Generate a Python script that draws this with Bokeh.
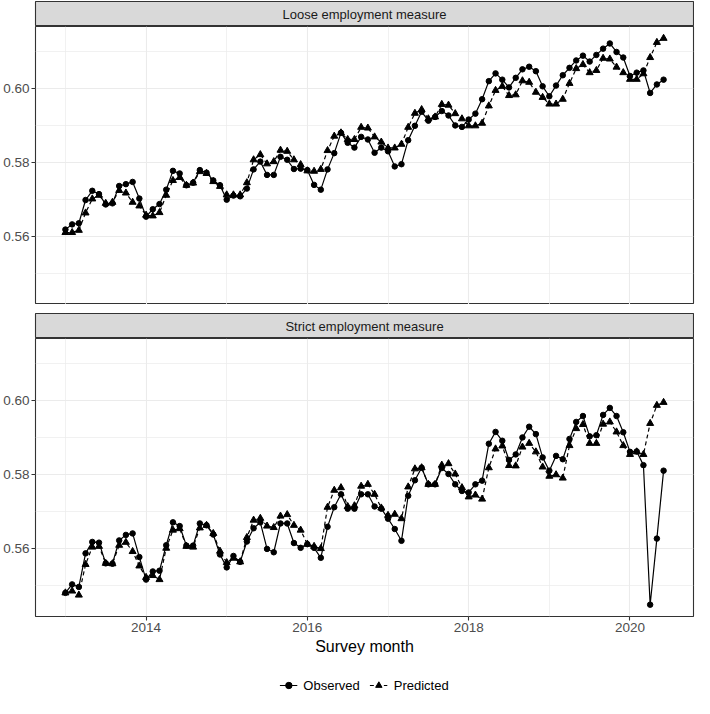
import pandas as pd
from bokeh.plotting import figure
from bokeh.layouts import column
from bokeh.models import (Range1d, FixedTicker, PrintfTickFormatter, Label, Legend,
                          LegendItem, ColumnDataSource, Grid, CDSView, IndexFilter)
from bokeh.embed import file_html
from bokeh.resources import INLINE

# ---------------- data ----------------
months = pd.date_range("2013-01-01", periods=90, freq="MS")

loose_observed = [
    0.5619, 0.5633, 0.5636, 0.5699, 0.5724, 0.5715, 0.5687, 0.5690, 0.5737, 0.5742, 0.5748, 0.5703,
    0.5654, 0.5674, 0.5688, 0.5727, 0.5778, 0.5771, 0.5739, 0.5746, 0.5780, 0.5773, 0.5752, 0.5739,
    0.5700, 0.5711, 0.5709, 0.5730, 0.5782, 0.5803, 0.5767, 0.5767, 0.5816, 0.5808, 0.5783, 0.5784,
    0.5780, 0.5740, 0.5727, 0.5782, 0.5826, 0.5881, 0.5854, 0.5841, 0.5870, 0.5863, 0.5827, 0.5841,
    0.5831, 0.5790, 0.5796, 0.5861, 0.5900, 0.5938, 0.5914, 0.5924, 0.5940, 0.5928, 0.5901, 0.5897,
    0.5917, 0.5933, 0.5972, 0.6021, 0.6042, 0.6025, 0.6004, 0.6030, 0.6053, 0.6060, 0.6048, 0.6007,
    0.5980, 0.6009, 0.6037, 0.6057, 0.6077, 0.6090, 0.6074, 0.6092, 0.6109, 0.6123, 0.6100, 0.6085,
    0.6035, 0.6044, 0.6050, 0.5989, 0.6012, 0.6025,
]
loose_predicted = [
    0.5611, 0.5611, 0.5617, 0.5664, 0.5702, 0.5712, 0.5690, 0.5693, 0.5725, 0.5718, 0.5693, 0.5683,
    0.5658, 0.5656, 0.5665, 0.5712, 0.5752, 0.5760, 0.5739, 0.5745, 0.5776, 0.5771, 0.5749, 0.5736,
    0.5713, 0.5713, 0.5713, 0.5746, 0.5808, 0.5822, 0.5797, 0.5803, 0.5834, 0.5831, 0.5808, 0.5795,
    0.5778, 0.5777, 0.5782, 0.5833, 0.5872, 0.5881, 0.5863, 0.5863, 0.5896, 0.5894, 0.5870, 0.5856,
    0.5840, 0.5840, 0.5850, 0.5896, 0.5934, 0.5944, 0.5919, 0.5924, 0.5958, 0.5956, 0.5933, 0.5919,
    0.5900, 0.5900, 0.5907, 0.5954, 0.5996, 0.6007, 0.5982, 0.5984, 0.6022, 0.6018, 0.5991, 0.5977,
    0.5959, 0.5959, 0.5972, 0.6015, 0.6055, 0.6066, 0.6044, 0.6050, 0.6083, 0.6081, 0.6059, 0.6044,
    0.6026, 0.6026, 0.6041, 0.6085, 0.6126, 0.6137,
]
strict_observed = [
    0.5480, 0.5503, 0.5496, 0.5587, 0.5618, 0.5616, 0.5560, 0.5559, 0.5622, 0.5637, 0.5641, 0.5577,
    0.5516, 0.5538, 0.5540, 0.5609, 0.5671, 0.5661, 0.5608, 0.5608, 0.5668, 0.5663, 0.5638, 0.5584,
    0.5549, 0.5580, 0.5564, 0.5619, 0.5655, 0.5671, 0.5599, 0.5590, 0.5668, 0.5668, 0.5615, 0.5602,
    0.5612, 0.5602, 0.5575, 0.5659, 0.5712, 0.5747, 0.5708, 0.5708, 0.5747, 0.5747, 0.5714, 0.5708,
    0.5681, 0.5653, 0.5621, 0.5743, 0.5785, 0.5819, 0.5774, 0.5774, 0.5818, 0.5802, 0.5774, 0.5756,
    0.5752, 0.5774, 0.5784, 0.5884, 0.5916, 0.5892, 0.5840, 0.5855, 0.5901, 0.5930, 0.5910, 0.5847,
    0.5811, 0.5851, 0.5842, 0.5897, 0.5943, 0.5959, 0.5904, 0.5907, 0.5962, 0.5981, 0.5959, 0.5915,
    0.5862, 0.5863, 0.5826, 0.5448, 0.5627, 0.5811,
]
strict_predicted = [
    0.5480, 0.5485, 0.5474, 0.5557, 0.5604, 0.5606, 0.5560, 0.5559, 0.5609, 0.5617, 0.5592, 0.5553,
    0.5522, 0.5527, 0.5516, 0.5601, 0.5650, 0.5654, 0.5606, 0.5604, 0.5656, 0.5663, 0.5641, 0.5593,
    0.5562, 0.5574, 0.5564, 0.5630, 0.5677, 0.5682, 0.5661, 0.5657, 0.5688, 0.5692, 0.5663, 0.5650,
    0.5612, 0.5606, 0.5600, 0.5712, 0.5758, 0.5765, 0.5714, 0.5716, 0.5769, 0.5774, 0.5747, 0.5710,
    0.5690, 0.5693, 0.5681, 0.5767, 0.5816, 0.5819, 0.5774, 0.5774, 0.5826, 0.5830, 0.5802, 0.5765,
    0.5740, 0.5745, 0.5734, 0.5819, 0.5870, 0.5878, 0.5825, 0.5824, 0.5875, 0.5885, 0.5862, 0.5821,
    0.5796, 0.5800, 0.5791, 0.5879, 0.5925, 0.5936, 0.5885, 0.5885, 0.5937, 0.5943, 0.5916, 0.5879,
    0.5855, 0.5862, 0.5855, 0.5939, 0.5988, 0.5996,
]

panel_titles = ["Loose employment measure", "Strict employment measure"]
x_major_ticks = [2014, 2016, 2018, 2020]
x_minor_ticks = [2013, 2015, 2017, 2019, 2021]
y_major_ticks = [0.56, 0.58, 0.60]
y_minor_ticks = [0.55, 0.57, 0.59, 0.61]
series_labels = ["Observed", "Predicted"]

# decimal-year positions of the survey months
x_year = [m.year + (m.month - 1) / 12 for m in months]

# ---------------- styling ----------------
FONT = "Liberation Sans"
LEFT = 34
RIGHT = 2
FW = 694 - LEFT - RIGHT
FH = 278
STRIP_H = 25
pad = 0.05 * (x_year[-1] - x_year[0])
X_RANGE = (x_year[0] - pad, x_year[-1] + pad)
Y_RANGE = (0.5416, 0.6169)

OBS_STYLE = dict(line_color="black", line_width=1.2)
PRED_STYLE = dict(line_color="black", line_width=1.2, line_dash="4 3")
CIRC_STYLE = dict(marker="circle", size=5.5, fill_color="black", line_color="black")
TRI_STYLE = dict(marker="triangle", size=7, fill_color="black", line_color="black")


def bare_figure(frame_h, top_gap, **kw):
    f = figure(frame_width=FW, frame_height=frame_h, x_range=Range1d(0, 1), y_range=Range1d(0, 1),
               x_axis_location=None, y_axis_location=None, toolbar_location=None,
               output_backend="svg", min_border_left=LEFT, min_border_right=RIGHT,
               min_border_top=top_gap, min_border_bottom=0, border_fill_color="white", **kw)
    f.grid.visible = False
    return f


def make_strip(text, top_gap):
    s = bare_figure(STRIP_H, top_gap, background_fill_color="#D9D9D9",
                    outline_line_color="#333333", outline_line_width=1.1)
    s.add_layout(Label(x=0.5, y=0.5, text=text, text_align="center", text_baseline="middle",
                       text_font=FONT, text_font_size="13px", text_color="#1A1A1A"))
    return s


def make_panel(src, obs, pred, bottom_axis):
    p = figure(frame_width=FW, frame_height=FH,
               x_range=Range1d(*X_RANGE), y_range=Range1d(*Y_RANGE),
               x_axis_location="below" if bottom_axis else None,
               toolbar_location=None, output_backend="svg",
               min_border_left=LEFT, min_border_right=RIGHT, min_border_top=0, min_border_bottom=0,
               background_fill_color="white", border_fill_color="white",
               outline_line_color="#333333", outline_line_width=1.1)
    p.center = [c for c in p.center if not isinstance(c, Grid)]
    xt = FixedTicker(ticks=x_major_ticks, minor_ticks=x_minor_ticks)
    yt = FixedTicker(ticks=y_major_ticks, minor_ticks=y_minor_ticks)
    for dim, tk in ((0, xt), (1, yt)):
        p.add_layout(Grid(dimension=dim, ticker=tk, grid_line_color="#EBEBEB", grid_line_width=1.1,
                          minor_grid_line_color="#EBEBEB", minor_grid_line_width=0.7), "center")

    axes = list(p.yaxis) + (list(p.xaxis) if bottom_axis else [])
    for ax in axes:
        ax.axis_line_color = None
        ax.major_tick_line_color = "#333333"
        ax.major_tick_line_width = 1.1
        ax.major_tick_out = 4
        ax.major_tick_in = 0
        ax.minor_tick_line_color = None
        ax.major_label_text_font = FONT
        ax.major_label_text_font_size = "13.5px"
        ax.major_label_text_color = "#4D4D4D"
        ax.major_label_standoff = 2
    p.yaxis.ticker = yt
    p.yaxis.formatter = PrintfTickFormatter(format="%.2f")
    if bottom_axis:
        p.xaxis.ticker = xt
        p.xaxis.formatter = PrintfTickFormatter(format="%d")
        p.xaxis.axis_label = "Survey month"
        p.xaxis.axis_label_text_font = FONT
        p.xaxis.axis_label_text_font_size = "16px"
        p.xaxis.axis_label_text_font_style = "normal"
        p.xaxis.axis_label_text_color = "#000000"
        p.xaxis.axis_label_standoff = 3

    p.line("x", obs, source=src, **OBS_STYLE)
    p.scatter("x", obs, source=src, **CIRC_STYLE)
    p.line("x", pred, source=src, **PRED_STYLE)
    p.scatter("x", pred, source=src, **TRI_STYLE)
    return p


src = ColumnDataSource(dict(x=x_year, loose_obs=loose_observed, loose_pred=loose_predicted,
                            strict_obs=strict_observed, strict_pred=strict_predicted))

strip1 = make_strip(panel_titles[0], 1)
panel1 = make_panel(src, "loose_obs", "loose_pred", False)
strip2 = make_strip(panel_titles[1], 9)
panel2 = make_panel(src, "strict_obs", "strict_pred", True)

# legend strip: key renderers share the data source; their one row lies outside this
# strip's own 0..1 range, so only the legend keys are visible here
lg = bare_figure(24, 16, outline_line_color=None, background_fill_color="white")
key_view = CDSView(filter=IndexFilter(indices=[0]))
k1 = lg.line("x", "strict_obs", source=src, view=key_view, **OBS_STYLE)
k2 = lg.scatter("x", "strict_obs", source=src, view=key_view, **CIRC_STYLE)
k3 = lg.line("x", "strict_pred", source=src, view=key_view, **PRED_STYLE)
k4 = lg.scatter("x", "strict_pred", source=src, view=key_view, **TRI_STYLE)
legend = Legend(items=[LegendItem(label=series_labels[0], renderers=[k1, k2]),
                       LegendItem(label=series_labels[1], renderers=[k3, k4])],
                orientation="horizontal", location="center",
                border_line_color=None, background_fill_alpha=0,
                label_text_font=FONT, label_text_font_size="13px", label_text_color="#000000",
                glyph_width=18, glyph_height=16, label_height=16, spacing=10, label_standoff=6,
                padding=0, margin=0)
lg.add_layout(legend)

layout = column(strip1, panel1, strip2, panel2, lg, spacing=0)

open("out.html", "w").write(file_html(layout, INLINE))
